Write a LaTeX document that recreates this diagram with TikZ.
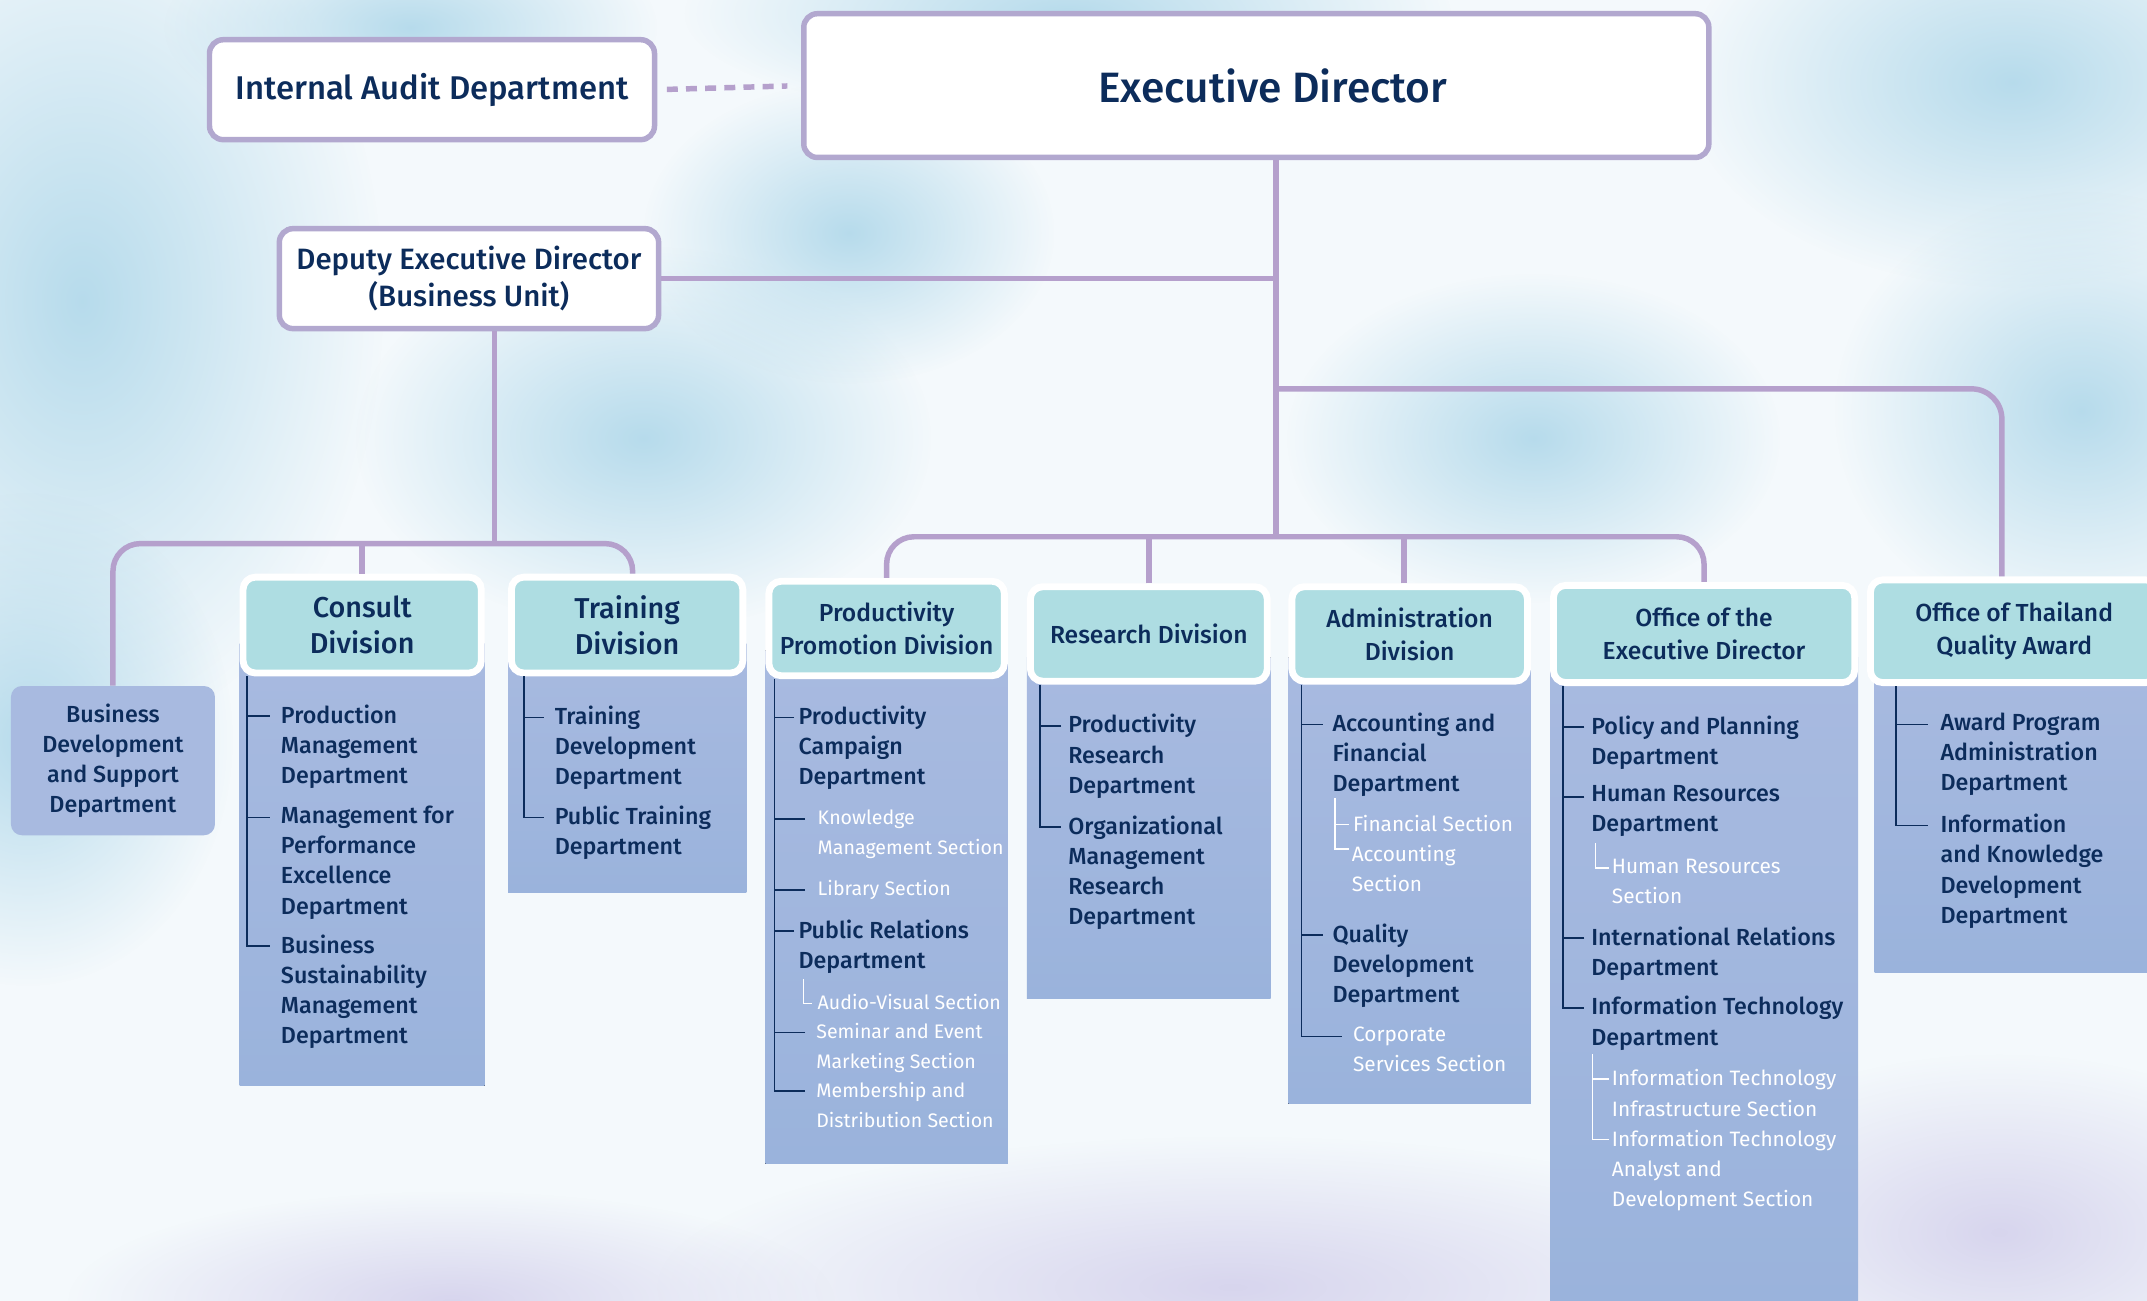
\documentclass[tikz,border=0pt]{standalone}
\usepackage{fontspec}
\setmainfont{Fira Sans}[BoldFont={* Medium}]
\usetikzlibrary{fadings}
\definecolor{navy}{RGB}{12,44,91}
\definecolor{linkpurple}{RGB}{181,160,204}
\definecolor{boxline}{RGB}{178,168,207}
\definecolor{headteal}{RGB}{174,221,226}
\definecolor{paneltop}{RGB}{168,186,224}
\definecolor{panelbot}{RGB}{154,179,220}
\definecolor{skybg}{RGB}{244,249,252}
\definecolor{skyblue}{RGB}{176,216,234}
\definecolor{cloudlilac}{RGB}{208,204,234}
\tikzfading[name=softspot, inner color=transparent!0, outer color=transparent!100]
\begin{document}
\begin{tikzpicture}[
        x=1pt,
        y=-1pt,
        topbox/.style={draw=boxline, line width=4pt, fill=white, rounded corners=10pt,
            inner sep=0pt, text=navy, align=center},
        divhead/.style={draw=white, line width=5pt, fill=headteal, rounded corners=9pt,
            inner sep=0pt, text=navy, align=center, font=\bfseries\fontsize{18}{24}\selectfont},
        panel/.style={top color=paneltop, bottom color=panelbot},
        dept/.style={anchor=north west, inner sep=0pt, align=left, text=navy,
            font=\bfseries\fontsize{17}{22}\selectfont},
        sect/.style={anchor=north west, inner sep=0pt, align=left, text=white,
            font=\fontsize{15.2}{22}\selectfont},
        smallsect/.style={sect, font=\fontsize{14.3}{22}\selectfont},
        link/.style={draw=linkpurple, line width=4pt},
        tree/.style={draw=navy, line width=1.2pt},
        subtree/.style={draw=white, line width=1pt}]
\useasboundingbox (0,0) rectangle (1568,950);
\clip (0,0) rectangle (1568,950);
% sky
\fill[skybg] (0,0) rectangle (1568,950);
\foreach \cx/\cy/\rx/\ry in {60/220/220/320, 470/320/210/140, 780/10/280/80, 1470/60/240/150,
    1520/300/180/160, 20/540/150/180, 1120/320/180/120, 620/170/150/110, 300/20/180/80}{
    \fill[skyblue, opacity=0.9, path fading=softspot]
        (\cx,\cy) ellipse [x radius=\rx, y radius=\ry];
}
\foreach \cx/\cy/\rx/\ry in {900/940/420/110, 1460/900/240/130, 330/950/280/80}{
    \fill[cloudlilac, opacity=0.8, path fading=softspot]
        (\cx,\cy) ellipse [x radius=\rx, y radius=\ry];
}
% panels
\fill[panel] (175,470) rectangle (354,793);
\fill[panel] (371,470) rectangle (545,652);
\fill[panel] (559,475) rectangle (736,850);
\fill[panel] (750,480) rectangle (928,729);
\fill[panel] (941,480) rectangle (1118,806);
\fill[panel] (1132,480) rectangle (1357,955);
\fill[panel] (1369,480) rectangle (1575,710);

% top level
\node[topbox, minimum width=661pt, minimum height=105pt, font=\bfseries\fontsize{31}{36}\selectfont]
    (ed) at (917.5,62.5) {\hspace*{24pt}Executive Director};
\node[topbox, minimum width=325pt, minimum height=73pt, font=\bfseries\fontsize{24}{30}\selectfont]
    (iad) at (315.5,65.5) {Internal Audit Department};
\node[topbox, minimum width=277pt, minimum height=73pt, font=\bfseries\fontsize{21.5}{27}\selectfont]
    (dep) at (342.5,203.5) {Deputy Executive Director\\(Business Unit)};

% divisions
\node[divhead, minimum width=174pt, minimum height=70pt, font=\bfseries\fontsize{21}{26}\selectfont]
    (cd) at (264.5,456.5) {Consult\\Division};
\node[divhead, minimum width=169pt, minimum height=70pt, font=\bfseries\fontsize{21}{26}\selectfont]
    (td) at (458,456.5) {Training\\Division};
\node[divhead, minimum width=172pt, minimum height=69pt] (pd) at (647.5,459) {Productivity\\Promotion Division};
\node[divhead, minimum width=173pt, minimum height=69pt] (rd) at (839,463) {Research Division};
\node[divhead, minimum width=172pt, minimum height=69pt] (ad) at (1029.5,463) {Administration\\Division};
\node[divhead, minimum width=220pt, minimum height=71pt] (od) at (1244.5,463) {Office of the\\Executive Director};
\node[divhead, minimum width=210pt, minimum height=75pt] (qd) at (1471,461) {Office of Thailand\\Quality Award};
\node[dept, anchor=center, align=center, fill=paneltop, rounded corners=8pt, minimum width=149pt,
    minimum height=109pt] (bd) at (82.5,555.5) {Business\\Development\\and Support\\Department};

% connectors
\coordinate (j1) at (932,284);
\coordinate (j2) at (932,392);
\coordinate (j3) at (361,397);
\draw[link, dash pattern=on 8pt off 6pt, shorten <=7pt, shorten >=10pt] (iad.east) -- (ed.west);
\draw[link] (ed.south -| j2) -- (j2);
\draw[link] (dep.east) -- (dep.east -| j2);
\draw[link, rounded corners=22pt] (j1) -| ([xshift=-9pt]qd.north);
\draw[link, rounded corners=20pt] (pd.north) |- (j2) -| (od.north);
\draw[link] (rd.north) -- (rd.north |- j2);
\draw[link] ([xshift=-4pt]ad.north) -- ([xshift=-4pt]ad.north |- j2);
\draw[link] (dep.south -| j3) -- (j3);
\draw[link, rounded corners=20pt] (bd.north) |- (j3) -| ([xshift=4pt]td.north);
\draw[link] (cd.north) -- (cd.north |- j3);

% Consult Division
\node[dept] (cs1) at (205,514.5) {Production\\Management\\Department};
\node[dept] (cs2) at (205,588.5) {Management for\\Performance\\Excellence\\Department};
\node[dept] (cs3) at (205,682.5) {Business\\Sustainability\\Management\\Department};
\coordinate (cs-t) at ([xshift=5.5pt]cd.south west);
\foreach \n/\g/\d in {cs1/8pt/8.5pt, cs2/8pt/8.5pt}
    \draw[tree] ([xshift=-\g,yshift=-\d]\n.north west) coordinate (tk) -- (tk -| cs-t);
\draw[tree] (cs-t) |- ([xshift=-8pt,yshift=-8.5pt]cs3.north west);

% Training Division
\node[dept] (tr1) at (405,515.5) {Training\\Development\\Department};
\node[dept] (tr2) at (405,588.5) {Public Training\\Department};
\coordinate (tr-t) at ([xshift=11.5pt]td.south west);
\draw[tree] ([xshift=-8pt,yshift=-8.5pt]tr1.north west) coordinate (tk) -- (tk -| tr-t);
\draw[tree] (tr-t) |- ([xshift=-8pt,yshift=-8.5pt]tr2.north west);

% Productivity Promotion Division
\node[dept] (pp1) at (583,515.5) {Productivity\\Campaign\\Department};
\node[smallsect] (pp2) at (597,591) {Knowledge\\Management Section};
\node[smallsect] (pp3) at (597,643) {Library Section};
\node[dept] (pp4) at (583,671.5) {Public Relations\\Department};
\node[smallsect] (pp5) at (597,726) {Audio-Visual Section};
\node[smallsect] (pp6) at (596,747) {Seminar and Event\\Marketing Section};
\node[smallsect] (pp7) at (596,790) {Membership and\\Distribution Section};
\coordinate (pp-t) at ([xshift=6.5pt]pd.south west);
\foreach \n/\g/\d in {pp1/3pt/8.5pt, pp2/9pt/7pt, pp3/9pt/7pt, pp4/3pt/8.5pt, pp6/8pt/7pt}
    \draw[tree] ([xshift=-\g,yshift=-\d]\n.north west) coordinate (tk) -- (tk -| pp-t);
\draw[tree] (pp-t) |- ([xshift=-8pt,yshift=-7pt]pp7.north west);
\draw[subtree] ([xshift=-10pt,yshift=11pt]pp5.north west) |- ([xshift=-4pt,yshift=-7pt]pp5.north west);

% Research Division
\node[dept] (rs1) at (780,521.5) {Productivity\\Research\\Department};
\node[dept] (rs2) at (780,595.5) {Organizational\\Management\\Research\\Department};
\coordinate (rs-t) at ([xshift=9.5pt]rd.south west);
\draw[tree] ([xshift=-5pt,yshift=-8.5pt]rs1.north west) coordinate (tk) -- (tk -| rs-t);
\draw[tree] (rs-t) |- ([xshift=-5pt,yshift=-8.5pt]rs2.north west);

% Administration Division
\node[dept] (ad1) at (973,520.5) {Accounting and\\Financial\\Department};
\node[sect] (ad2) at (988,595) {Financial Section};
\node[sect] (ad3) at (987,617) {Accounting\\Section};
\node[dept] (ad4) at (973,674.5) {Quality\\Development\\Department};
\node[sect] (ad5) at (988,750) {Corporate\\Services Section};
\coordinate (ad-t) at ([xshift=9.5pt]ad.south west);
\foreach \n/\g/\d in {ad1/7pt/8.5pt, ad4/7pt/8.5pt}
    \draw[tree] ([xshift=-\g,yshift=-\d]\n.north west) coordinate (tk) -- (tk -| ad-t);
\draw[tree] (ad-t) |- ([xshift=-8pt,yshift=-7pt]ad5.north west);
\draw[subtree] ([xshift=-13pt,yshift=12pt]ad2.north west) |- ([xshift=-2pt,yshift=-3pt]ad3.north west);
\draw[subtree] ([xshift=-3pt,yshift=-7pt]ad2.north west) -- ++(-10pt,0);

% Office of the Executive Director
\node[dept] (od1) at (1162,522.5) {Policy and Planning\\Department};
\node[dept] (od2) at (1162,573.5) {Human Resources\\Department};
\node[sect] (od3) at (1177,627) {Human Resources\\Section};
\node[dept] (od4) at (1162,676.5) {International Relations\\Department};
\node[dept] (od5) at (1162,727.5) {Information Technology\\Department};
\node[sect] (od6) at (1177,781) {Information Technology\\Infrastructure Section};
\node[sect] (od7) at (1177,825) {Information Technology\\Analyst and\\Development Section};
\coordinate (od-t) at ([xshift=9.5pt]od.south west);
\foreach \n in {od1, od2, od4}
    \draw[tree] ([xshift=-5pt,yshift=-8.5pt]\n.north west) coordinate (tk) -- (tk -| od-t);
\draw[tree] (od-t) |- ([xshift=-5pt,yshift=-8.5pt]od5.north west);
\draw[subtree] ([xshift=-12pt,yshift=11pt]od3.north west) |- ([xshift=-2pt,yshift=-7pt]od3.north west);
\draw[subtree] ([xshift=-14pt,yshift=11pt]od6.north west) |- ([xshift=-2pt,yshift=-7pt]od7.north west);
\draw[subtree] ([xshift=-2pt,yshift=-7pt]od6.north west) -- ++(-12pt,0);

% Office of Thailand Quality Award
\node[dept] (oq1) at (1417,520.5) {Award Program\\Administration\\Department};
\node[dept] (oq2) at (1417,594.5) {Information\\and Knowledge\\Development\\Department};
\coordinate (oq-t) at ([xshift=21pt]qd.south west);
\draw[tree] ([xshift=-9pt,yshift=-8.5pt]oq1.north west) coordinate (tk) -- (tk -| oq-t);
\draw[tree] (oq-t) |- ([xshift=-9pt,yshift=-8.5pt]oq2.north west);
\end{tikzpicture}
\end{document}
